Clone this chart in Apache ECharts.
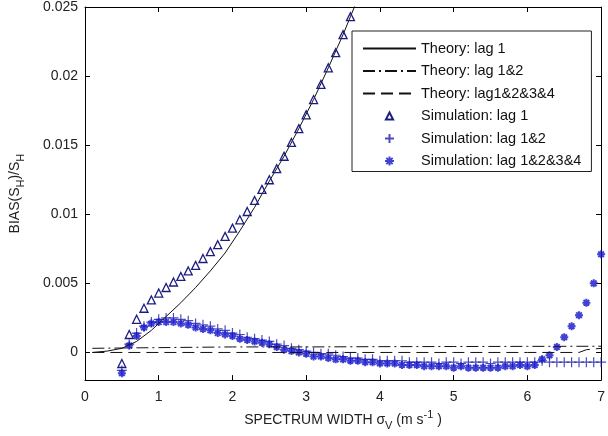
<!DOCTYPE html>
<html><head><meta charset="utf-8">
<script src="https://cdn.jsdelivr.net/npm/echarts@6/dist/echarts.min.js"></script>
<style>html,body{margin:0;padding:0;background:#fff}#c{width:608px;height:436px}</style>
</head><body><div id="c"></div>
<script>
// ---- data ----
const theory1X = [0.1,0.3,0.5,0.7,0.9,1.1,1.3,1.5,1.7,1.9,2.1,2.3,2.5,2.7,2.9,3.1,3.3,3.5,3.6,3.7];
const theory1Y = [0,0.0001,0.0003,0.0008,0.0016,0.0026,0.0036,0.0047,0.0059,0.0072,0.0088,0.0105,0.0124,0.0142,0.0162,0.0183,0.0206,0.0230,0.0243,0.0256];
const theory12X = [0.1,1,2,3,4,5,6,7];
const theory12Y = [0.0003,0.00035,0.0004,0.0004,0.00042,0.00043,0.00044,0.00045];
const theory1234X = [0.1,1,2,3,4,5,6,6.7,6.8,7];
const theory1234Y = [0,0,0,0,0,0,0,0,0.0002,0.0003];
const simX = [0.5,0.6,0.7,0.8,0.9,1.0,1.1,1.2,1.3,1.4,1.5,1.6,1.7,1.8,1.9,2.0,2.1,2.2,2.3,2.4,2.5,2.6,2.7,2.8,2.9,3.0,3.1,3.2,3.3,3.4,3.5,3.6,3.7,3.8,3.9,4.0,4.1,4.2,4.3,4.4,4.5,4.6,4.7,4.8,4.9,5.0,5.1,5.2,5.3,5.4,5.5,5.6,5.7,5.8,5.9,6.0,6.1,6.2,6.3,6.4,6.5,6.6,6.7,6.8,6.9,7.0];
const sim1Y = [-0.0008,0.0013,0.0024,0.0032,0.0038,0.0043,0.0047,0.0051,0.0055,0.0059,0.0063,0.0068,0.0073,0.0078,0.0084,0.0090,0.0096,0.0102,0.0110,0.0118,0.0125,0.0133,0.0142,0.0152,0.0162,0.0172,0.0183,0.0194,0.0206,0.0217,0.0230,0.0243];
const sim12Y = [-0.0013,0.0006,0.0014,0.0019,0.0022,0.0024,0.0025,0.0025,0.0024,0.0023,0.0021,0.0020,0.0019,0.0017,0.0016,0.0014,0.0013,0.0011,0.0010,0.0009,0.0008,0.0006,0.0005,0.0003,0.0002,0.0001,0.0000,-0.0001,-0.0001,-0.0002,-0.0003,-0.0004,-0.0004,-0.0005,-0.0005,-0.0006,-0.0006,-0.0006,-0.0006,-0.0007,-0.0007,-0.0007,-0.0007,-0.0008,-0.0007,-0.0007,-0.0008,-0.0007,-0.0007,-0.0007,-0.0008,-0.0007,-0.0007,-0.0007,-0.0007,-0.0007,-0.0007,-0.0006,-0.0007,-0.0007,-0.0007,-0.0007,-0.0007,-0.0007,-0.0007,-0.0007];
const sim1234Y = [-0.0015,0.0005,0.0012,0.0018,0.0021,0.0022,0.0022,0.0022,0.0021,0.0020,0.0018,0.0017,0.0016,0.0014,0.0013,0.0012,0.0010,0.0009,0.0008,0.0007,0.0006,0.0004,0.0002,0.0001,0.0000,-0.0001,-0.0003,-0.0003,-0.0004,-0.0005,-0.0005,-0.0006,-0.0006,-0.0007,-0.0007,-0.0008,-0.0008,-0.0008,-0.0009,-0.0009,-0.0009,-0.0010,-0.0010,-0.0010,-0.0010,-0.0011,-0.0010,-0.0011,-0.0011,-0.0011,-0.0011,-0.0011,-0.0010,-0.0010,-0.0009,-0.0010,-0.0009,-0.0005,-0.0002,0.0004,0.0011,0.0019,0.0027,0.0036,0.0050,0.0071];
const seriesNames = ['Theory: lag 1','Theory: lag 1&2','Theory: lag1&2&3&4','Simulation: lag 1','Simulation: lag 1&2','Simulation: lag 1&2&3&4'];
const xTicks = [0,1,2,3,4,5,6,7];
const yTickValues = [0,0.005,0.01,0.015,0.02,0.025];
const yTickLabels = ['0','0.005','0.01','0.015','0.02','0.025'];

const pairs = (xs, ys) => ys.map((y, i) => [xs[i], y]);
const FONT = '"Liberation Sans", Arial, sans-serif';
const PLUS = 'path://M0,5L10,5M5,0L5,10';
const STAR = 'path://M0,5L10,5M5,0L5,10M1.5,1.5L8.5,8.5M1.5,8.5L8.5,1.5';
const CLEAR = 'rgba(0,0,0,0)';
const FS = 14;

const chart = echarts.init(document.getElementById('c'), null, {renderer: 'canvas'});
const axisLineStyle = {show: true, onZero: false, lineStyle: {color: '#000', width: 1}};
chart.setOption({
  animation: false,
  backgroundColor: '#fff',
  grid: {left: 82, right: 1, top: 5, bottom: 51, containLabel: false},
  xAxis: [
    {
      type: 'value', min: 0, max: 7, interval: 1, position: 'bottom',
      axisLine: axisLineStyle, splitLine: {show: false},
      axisTick: {inside: true, length: 5, lineStyle: {color: '#000'}},
      axisLabel: {margin: 10, fontSize: FS, fontFamily: FONT, color: '#222', formatter: v => String(xTicks[Math.round(v)])},
      name: '{a|SPECTRUM WIDTH σ}{s|V}{a| (m s}{p|-1}{a| )}',
      nameLocation: 'middle', nameGap: 25,
      nameTextStyle: {rich: {
        a: {fontSize: FS, fontFamily: FONT, color: '#222', lineHeight: 22},
        s: {fontSize: 11, fontFamily: FONT, color: '#222', lineHeight: 10, verticalAlign: 'bottom'},
        p: {fontSize: 11, fontFamily: FONT, color: '#222', lineHeight: 10, verticalAlign: 'top'}
      }}
    },
    {
      type: 'value', min: 0, max: 7, interval: 1, position: 'top',
      axisLine: axisLineStyle, splitLine: {show: false},
      axisTick: {inside: true, length: 5, lineStyle: {color: '#000'}},
      axisLabel: {show: false}
    }
  ],
  yAxis: [
    {
      type: 'value', min: -0.002, max: 0.025, position: 'left',
      axisLine: axisLineStyle, splitLine: {show: false},
      axisTick: {inside: true, length: 5, customValues: yTickValues, lineStyle: {color: '#000'}},
      axisLabel: {margin: 7, fontSize: FS, fontFamily: FONT, color: '#222', customValues: yTickValues,
        formatter: v => { const i = yTickValues.findIndex(t => Math.abs(t - v) < 1e-9); return i >= 0 ? yTickLabels[i] : ''; }},
      name: '{a|BIAS(S}{s|H}{a|)/S}{s|H}',
      nameLocation: 'middle', nameGap: 59, nameRotate: 90,
      nameTextStyle: {rich: {
        a: {fontSize: FS, fontFamily: FONT, color: '#222', lineHeight: 22},
        s: {fontSize: 11, fontFamily: FONT, color: '#222', lineHeight: 10, verticalAlign: 'bottom'}
      }}
    },
    {
      type: 'value', min: -0.002, max: 0.025, position: 'right',
      axisLine: axisLineStyle, splitLine: {show: false},
      axisTick: {inside: true, length: 5, customValues: yTickValues, lineStyle: {color: '#000'}},
      axisLabel: {show: false, customValues: yTickValues}
    }
  ],
  legend: {
    orient: 'vertical', left: 352, top: 31, padding: [10, 10, 3, 10],
    itemWidth: 53, itemHeight: 9, itemGap: 7.5,
    backgroundColor: '#fff', borderColor: '#222', borderWidth: 1,
    textStyle: {fontSize: 14.5, fontFamily: FONT, color: '#111', lineHeight: 14},
    data: seriesNames
  },
  series: [
    {name: seriesNames[0], type: 'line', data: pairs(theory1X, theory1Y), symbol: 'none', smooth: false, clip: true,
      lineStyle: {color: '#111', width: 1, type: 'solid'}, itemStyle: {color: CLEAR, borderColor: CLEAR}},
    {name: seriesNames[1], type: 'line', data: pairs(theory12X, theory12Y), symbol: 'none', clip: true,
      lineStyle: {color: '#111', width: 1, type: [12, 4, 2, 4]}, itemStyle: {color: CLEAR, borderColor: CLEAR}},
    {name: seriesNames[2], type: 'line', data: pairs(theory1234X, theory1234Y), symbol: 'none', clip: true,
      lineStyle: {color: '#111', width: 1, type: [12, 6]}, itemStyle: {color: CLEAR, borderColor: CLEAR}},
    {name: seriesNames[3], type: 'line', data: pairs(simX, sim1Y), symbol: 'triangle', symbolSize: 8, showSymbol: true, showAllSymbol: true, clip: true,
      lineStyle: {color: CLEAR, width: 1},
      itemStyle: {color: 'rgba(255,255,255,0)', borderColor: '#1c1c80', borderWidth: 1.3}},
    {name: seriesNames[4], type: 'scatter', data: pairs(simX, sim12Y), symbol: PLUS, symbolSize: 10, clip: true,
      itemStyle: {color: '#2020a8', borderColor: '#2020a8', borderWidth: 1.2}},
    {name: seriesNames[5], type: 'scatter', data: pairs(simX, sim1234Y), symbol: STAR, symbolSize: 8, clip: true,
      itemStyle: {color: '#1212cc', borderColor: '#1212cc', borderWidth: 2}}
  ]
});
</script></body></html>
